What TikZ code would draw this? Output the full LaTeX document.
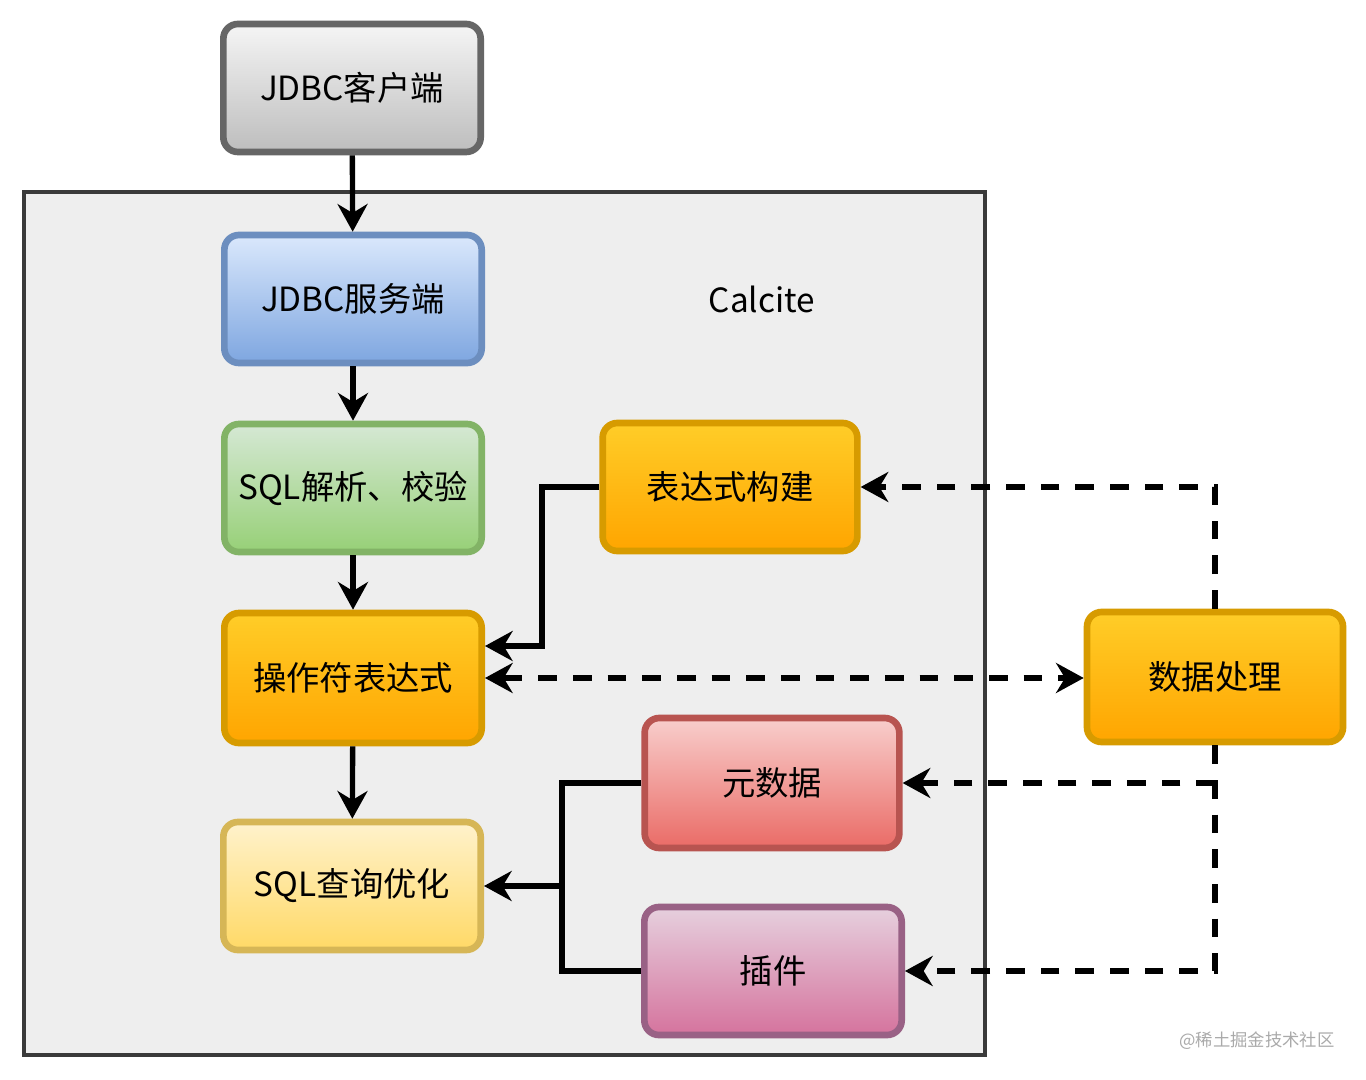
\documentclass[tikz,border=0pt]{standalone}
\usepackage{fontspec}
\setmainfont{Noto Sans CJK SC}
\usetikzlibrary{arrows.meta}
\definecolor{grayT}{HTML}{F5F5F5}\definecolor{grayB}{HTML}{BDBDBD}\definecolor{grayD}{HTML}{666666}
\definecolor{blueT}{HTML}{DAE8FC}\definecolor{blueB}{HTML}{7EA6E0}\definecolor{blueD}{HTML}{6C8EBF}
\definecolor{greenT}{HTML}{D5E8D4}\definecolor{greenB}{HTML}{97D077}\definecolor{greenD}{HTML}{82B366}
\definecolor{orT}{HTML}{FFCD28}\definecolor{orB}{HTML}{FFA500}\definecolor{orD}{HTML}{D79B00}
\definecolor{yeT}{HTML}{FFF2CC}\definecolor{yeB}{HTML}{FFD966}\definecolor{yeD}{HTML}{D6B656}
\definecolor{redT}{HTML}{F8CECC}\definecolor{redB}{HTML}{EA6B66}\definecolor{redD}{HTML}{B85450}
\definecolor{puT}{HTML}{E6D0DE}\definecolor{puB}{HTML}{D5739D}\definecolor{puD}{HTML}{996185}
\definecolor{outerF}{HTML}{EEEEEE}\definecolor{outerD}{HTML}{3A3A3A}
\definecolor{wm}{HTML}{AAAAAA}
\tikzset{
  box/.style={rounded corners=11pt, line width=5pt, minimum width=193pt, minimum height=96pt,
    inner sep=0pt, font=\fontsize{25pt}{29pt}\selectfont, text=black},
  graybox/.style={box, draw=grayD, top color=grayT, bottom color=grayB},
  bluebox/.style={box, draw=blueD, top color=blueT, bottom color=blueB},
  greenbox/.style={box, draw=greenD, top color=greenT, bottom color=greenB},
  orbox/.style={box, draw=orD, top color=orT, bottom color=orB},
  yebox/.style={box, draw=yeD, top color=yeT, bottom color=yeB},
  redbox/.style={box, draw=redD, top color=redT, bottom color=redB},
  pubox/.style={box, draw=puD, top color=puT, bottom color=puB},
  tipa/.tip={Stealth[length=21pt, width=23pt, inset=7pt, line width=0pt]},
  conn/.style={line width=4pt, draw=black},
  arr/.style={conn, -tipa},
  darr/.style={conn, -tipa, dash pattern=on 14pt off 12pt},
}
\begin{document}
\begin{tikzpicture}[x=0.75pt,y=-0.75pt]
\useasboundingbox[fill=white] (0,0) rectangle (1366,1080);
\node[draw=outerD, fill=outerF, line width=3pt, minimum width=720.75pt, minimum height=647.25pt, inner sep=0pt] (calcite) at (504.5,623.5) {};
\node[font=\fontsize{25pt}{29pt}\selectfont] (calcitelabel) at (762,299) {Calcite};

\node[graybox] (client) at (352,88) {JDBC客户端};
\node[bluebox] (server) at (353,299) {JDBC服务端};
\node[greenbox] (parse) at (353,488) {SQL解析、校验};
\node[orbox, minimum height=97.5pt] (oper) at (353,678) {操作符表达式};
\node[yebox] (opt) at (352,886) {SQL查询优化};
\node[orbox, minimum width=191pt] (build) at (730,487) {表达式构建};
\node[redbox, minimum width=191pt, minimum height=97.5pt] (meta) at (772,783) {元数据};
\node[pubox] (plugin) at (773,971) {插件};
\node[orbox, minimum width=192pt, minimum height=97.5pt] (data) at (1215,677) {数据处理};

\node[font=\fontsize{13pt}{15pt}\selectfont, text=wm] (wmark) at (1257,1041) {@稀土掘金技术社区};

\draw[arr] (client) -- (server);
\draw[arr] (server) -- (parse);
\draw[arr] (parse) -- (oper);
\draw[arr] (oper) -- (opt);

\coordinate (j1) at (542,487);
\draw[arr] (build.west) -- (j1) |- ([yshift=24pt]oper.east);

\coordinate (j2) at (562,886);
\draw[arr] (meta.west) -| (j2) -- (opt.east);
\draw[conn] (plugin.west) -| (j2);

\draw[darr, tipa-tipa] (oper.east) -- (oper.east -| data.west);
\draw[darr] (data.north) |- (build.east);
\draw[darr] (data.south) |- (plugin.east);
\draw[darr] (data.south |- meta.east) -- (meta.east);
\end{tikzpicture}
\end{document}
